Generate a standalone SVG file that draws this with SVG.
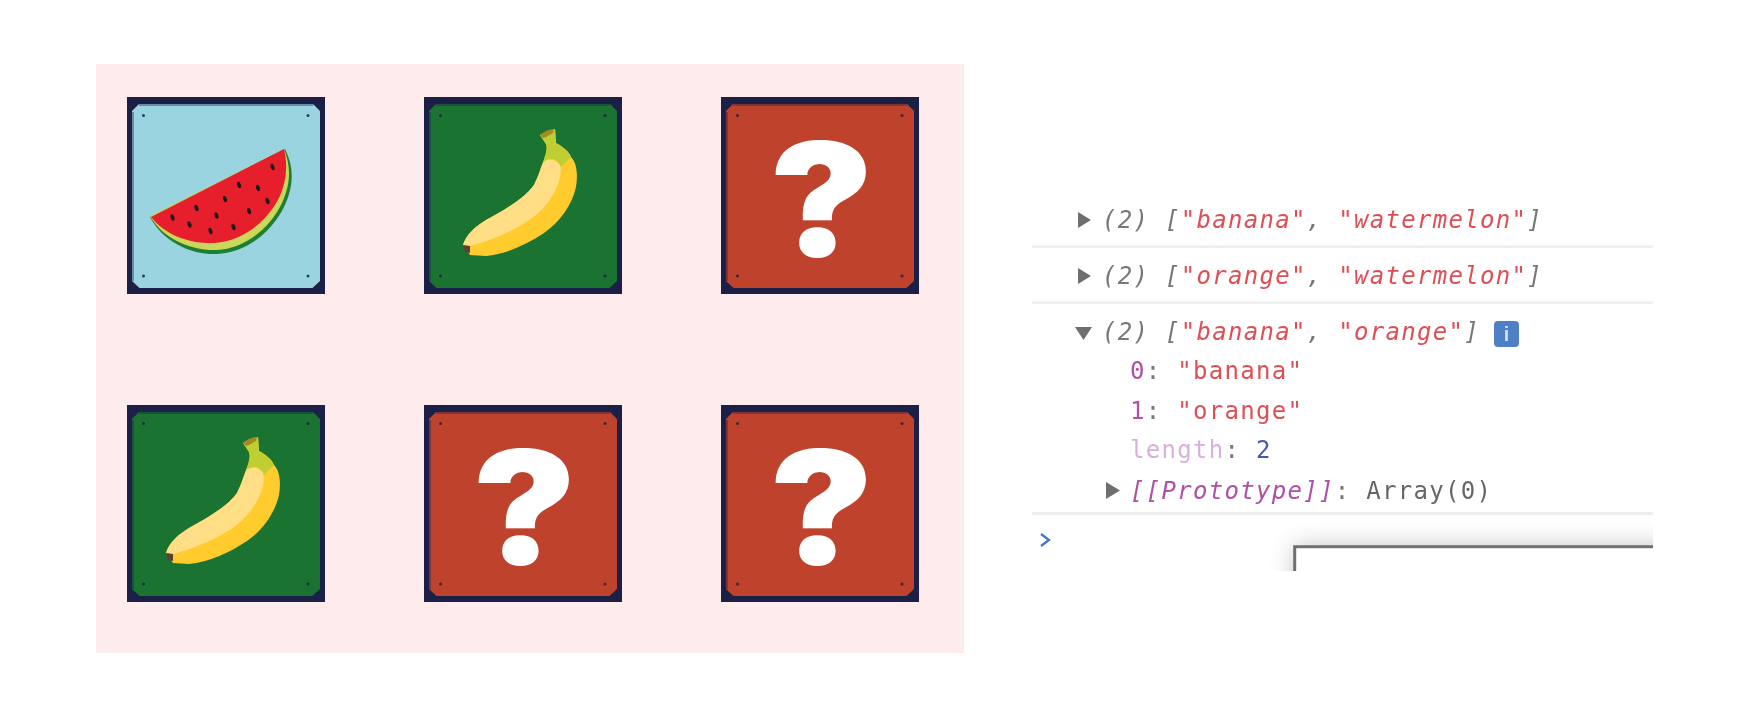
<svg xmlns="http://www.w3.org/2000/svg" width="1751" height="720" viewBox="0 0 1751 720">
<style>
.mono{font-family:"DejaVu Sans Mono","Liberation Mono",monospace;font-size:24px;letter-spacing:1.3px}
.it{font-style:italic}
.g{fill:#777}
.a{fill:#666}
.r{fill:#dd4f55}
.p{fill:#b050a6}
.lp{fill:#d8b0dc}
.n{fill:#4a58b0}
.sep{fill:#eeeeee}
.tri{fill:#6e6e6e}
.bolt{fill:#1c2046;fill-opacity:.85}
.frame{fill:#1c2046}
.q{font-family:"Inter","Liberation Sans",sans-serif;font-weight:900;font-size:158px;fill:#fff;text-anchor:middle}
</style>
<defs>
<filter id="soft" x="-5%" y="-20%" width="110%" height="140%"><feGaussianBlur stdDeviation="0.7"/></filter>
<filter id="shadow" x="-20%" y="-100%" width="140%" height="300%"><feGaussianBlur stdDeviation="13"/></filter>
<clipPath id="console-clip"><rect x="1030" y="180" width="623" height="391"/></clipPath>
<g id="card-frame">
<rect class="frame" width="198" height="197"/>
<path d="M12 7H186L193 14V184L185.500 191H12.500L5 184V14Z" fill="currentColor"/>
<path d="M6 15V184M12 8H186" fill="none" stroke="#1c2046" stroke-opacity=".4" stroke-width="2"/>
<circle class="bolt" cx="16.500" cy="18.500" r="1.500"/><circle class="bolt" cx="181" cy="18.500" r="1.500"/>
<circle class="bolt" cx="16.500" cy="179" r="1.500"/><circle class="bolt" cx="181" cy="179" r="1.500"/>
</g>
<g id="banana">
<path d="M116 38L131 32L132 46C140 50 146 56 147 60C153 66 154 78 152 90C148 108 136 125 120 136C102 148 82 157 62 159L46 158L39 148C44 136 52 130 62 123C80 113 100 102 110 88C115 78 117 70 119 65C122 58 124 52 122 47Z" fill="#ffcb2d"/>
<path d="M116 38L131 32L132 46C138 50 144 55 147 60L137 70C134 64 130 61 127 62C123 62 120 64 119 66C121 58 124 52 122 47Z" fill="#bfcf33"/>
<path d="M116 38C120 34 126 32 130 32L129 36C124 39 120 41 119 41Z" fill="#a58a24"/>
<path d="M39 148C42 138 50 130 62 123C80 113 100 102 110 88C115 78 117 70 119 66C122 62 130 60 136 68C138 74 136 84 132 92C124 110 108 123 92 131C76 140 60 145 46 149Z" fill="#ffde85"/>
<path d="M39 148L46 149L46 156L41 155Z" fill="#5d4037"/>
</g>
</defs>
<rect width="1751" height="720" fill="#fff"/>
<rect id="board" x="96" y="64" width="868" height="589" fill="#feecec"/>

<g id="card-watermelon" transform="translate(127 97)">
<use href="#card-frame" color="#9bd4e1"/>
<path d="M23 120C36 145 64 158 90 157C118 156 145 136 158 108C167 88 167 70 158 52Z" fill="#1e7f34"/>
<path d="M23 119C36 142 64 154 90 153C116 152 142 133 155 106C164 86 164 70 157 52Z" fill="#c9d85a"/>
<path d="M24 120L157 52C162 72 158 92 148 108C134 130 112 144 88 146C62 147 38 138 24 120Z" fill="#e71f2d"/>
<g fill="#1a1a1a">
<ellipse cx="45.500" cy="120.500" rx="1.900" ry="3.300" transform="rotate(-18 45.500 120.500)"/>
<ellipse cx="69.500" cy="111" rx="1.900" ry="3.300" transform="rotate(-18 69.500 111)"/>
<ellipse cx="62.500" cy="127.500" rx="1.900" ry="3.300" transform="rotate(-18 62.500 127.500)"/>
<ellipse cx="83.500" cy="134" rx="1.900" ry="3.300" transform="rotate(-18 83.500 134)"/>
<ellipse cx="89.500" cy="118.500" rx="1.900" ry="3.300" transform="rotate(-18 89.500 118.500)"/>
<ellipse cx="98" cy="102" rx="1.900" ry="3.300" transform="rotate(-18 98 102)"/>
<ellipse cx="112" cy="88" rx="1.900" ry="3.300" transform="rotate(-18 112 88)"/>
<ellipse cx="131" cy="91" rx="1.900" ry="3.300" transform="rotate(-18 131 91)"/>
<ellipse cx="140.500" cy="104" rx="1.900" ry="3.300" transform="rotate(-18 140.500 104)"/>
<ellipse cx="122" cy="114" rx="1.900" ry="3.300" transform="rotate(-18 122 114)"/>
<ellipse cx="106.500" cy="130" rx="1.900" ry="3.300" transform="rotate(-18 106.500 130)"/>
<ellipse cx="145.500" cy="70" rx="1.900" ry="3.300" transform="rotate(-18 145.500 70)"/>
</g>
</g>

<g id="card-banana-top" transform="translate(424 97)"><use href="#card-frame" color="#1b7332"/><use href="#banana"/></g>
<g id="card-question-top" transform="translate(721 97)"><use href="#card-frame" color="#bf432c"/><text class="q" transform="translate(100.500 158.500) scale(1.1 1)">?</text></g>
<g id="card-banana-bottom" transform="translate(127 405)"><use href="#card-frame" color="#1b7332"/><use href="#banana"/></g>
<g id="card-question-bottom-middle" transform="translate(424 405)"><use href="#card-frame" color="#bf432c"/><text class="q" transform="translate(100.500 158.500) scale(1.1 1)">?</text></g>
<g id="card-question-bottom-right" transform="translate(721 405)"><use href="#card-frame" color="#bf432c"/><text class="q" transform="translate(100.500 158.500) scale(1.1 1)">?</text></g>

<g id="console" clip-path="url(#console-clip)">
<rect x="1295" y="547" width="420" height="120" fill="#000" opacity=".26" filter="url(#shadow)"/>
<rect class="sep" x="1032" y="245.500" width="621" height="2.500"/>
<rect class="sep" x="1032" y="301.500" width="621" height="2.500"/>
<rect class="sep" x="1032" y="512" width="621" height="3"/>
<rect x="1294.700" y="546.700" width="420" height="60" fill="#fff" stroke="#707070" stroke-width="3"/>
<g filter="url(#soft)">
<path class="tri" d="M1078 212L1091 220L1078 228Z"/>
<path class="tri" d="M1078 268L1091 276L1078 284Z"/>
<path class="tri" d="M1075 327H1092L1083.500 340Z"/>
<path class="tri" d="M1106 482L1120 490.500L1106 499Z"/>
<text class="mono it g" x="1102" y="227.500">(2) [<tspan class="r">"banana"</tspan>, <tspan class="r">"watermelon"</tspan>]</text>
<text class="mono it g" x="1102" y="283.500">(2) [<tspan class="r">"orange"</tspan>, <tspan class="r">"watermelon"</tspan>]</text>
<text class="mono it g" x="1102" y="339.500">(2) [<tspan class="r">"banana"</tspan>, <tspan class="r">"orange"</tspan>]</text>
<rect x="1494" y="321" width="25" height="26" rx="4" fill="#4f7fc4"/>
<text x="1506.500" y="341" font-family="Liberation Sans, sans-serif" font-size="20" font-weight="700" fill="#cfe0f5" text-anchor="middle">i</text>
<text class="mono" x="1130" y="379"><tspan class="p">0</tspan><tspan class="g">: </tspan><tspan class="r">"banana"</tspan></text>
<text class="mono" x="1130" y="419"><tspan class="p">1</tspan><tspan class="g">: </tspan><tspan class="r">"orange"</tspan></text>
<text class="mono" x="1130" y="458"><tspan class="lp">length</tspan><tspan class="g">: </tspan><tspan class="n">2</tspan></text>
<text class="mono" x="1130" y="498.500"><tspan class="p it">[[Prototype]]</tspan><tspan class="g">: </tspan><tspan class="a">Array(0)</tspan></text>
<path d="M1041 534L1049 540L1041 546" fill="none" stroke="#3f74c9" stroke-width="2.200"/>
</g>
</g>
</svg>
